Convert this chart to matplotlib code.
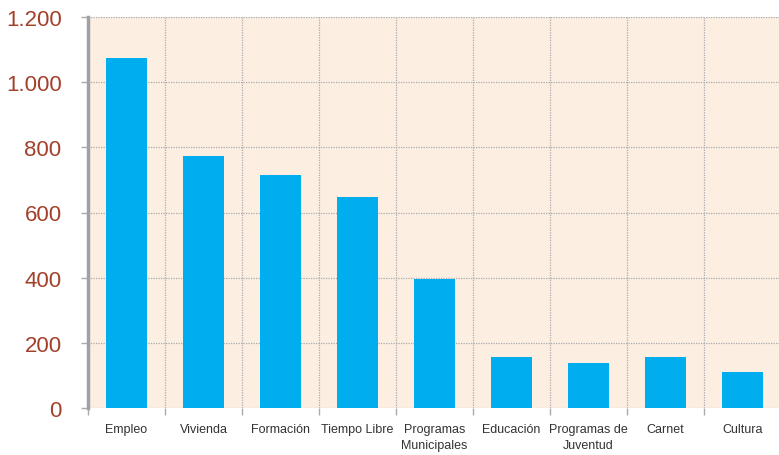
import numpy as np
import matplotlib
matplotlib.use("Agg")
import matplotlib.pyplot as plt
from matplotlib.ticker import FixedLocator, FuncFormatter

categories = ["Empleo", "Vivienda", "Formación", "Tiempo Libre", "Programas\nMunicipales",
              "Educación", "Programas de\nJuventud", "Carnet", "Cultura"]
values = [1074, 773, 715, 647, 396, 156, 138, 156, 110]
yticks = [0, 200, 400, 600, 800, 1000, 1200]

BAR = "#00AEEF"
BG = "#FCEFE2"
TICKCOL = "#A3402A"
GRID = "#ABABAB"

plt.rcParams["font.family"] = ["Liberation Sans", "DejaVu Sans"]

fig = plt.figure(figsize=(7.79, 4.56), dpi=100)
ax = fig.add_axes([88 / 779, 1 - 409 / 456, 693 / 779, 391 / 456])
ax.set_facecolor(BG)

x = np.arange(len(categories))
ax.bar(x, values, width=0.52, color=BAR, zorder=3)

ax.set_xlim(-0.5, len(categories) - 0.5)
ax.set_ylim(0, 1200)
ax.set_yticks(yticks)
ax.yaxis.set_major_formatter(FuncFormatter(lambda v, p: f"{int(v):,}".replace(",", ".")))
ax.tick_params(axis="y", labelsize=16, labelcolor=TICKCOL, color=GRID, length=5,
               width=1, pad=14)

# category boundaries carry the vertical grid + tick marks
ax.xaxis.set_major_locator(FixedLocator(np.arange(len(categories) + 1) - 0.5))
ax.xaxis.set_minor_locator(FixedLocator(x))
ax.xaxis.set_major_formatter(FuncFormatter(lambda v, p: ""))
ax.set_xticklabels(categories, minor=True)
ax.tick_params(axis="x", which="major", length=5, color=GRID, width=1)
ax.tick_params(axis="x", which="minor", length=0, pad=11, labelsize=9,
               labelcolor="#333333")
for lbl in ax.get_xticklabels(minor=True):
    lbl.set_verticalalignment("top")
    lbl.set_linespacing(1.45)

ax.grid(True, which="major", color=GRID, linestyle=(0, (1, 1)), linewidth=0.9, zorder=1)
for s in ["top", "right", "bottom"]:
    ax.spines[s].set_visible(False)
ax.spines["left"].set_color("#A0A0A8")
ax.spines["left"].set_linewidth(2.5)
ax.spines["left"].set_zorder(4)

fig.savefig("out.png", dpi=100)
